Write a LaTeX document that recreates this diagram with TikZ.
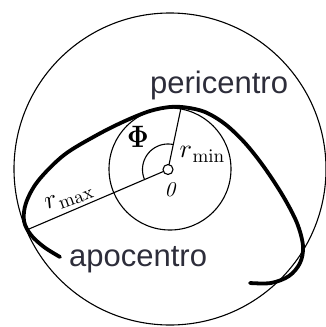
\documentclass[tikz,border=0pt]{standalone}
\usepackage[no-math]{fontspec}
\newfontfamily\labelfont{Liberation Sans}
\definecolor{labelgray}{RGB}{45,45,58}
\begin{document}
\begin{tikzpicture}[x=1pt,y=-1pt,
  thinline/.style={line width=1.1pt},
  orbit/.style={line width=3.8pt, line cap=round, line join=round},
  bigtext/.style={font=\labelfont\fontsize{31}{31}\selectfont, text=labelgray, inner sep=0pt},
  mathlabel/.style={inner sep=0pt}]
\useasboundingbox (0,0) rectangle (325,327);
\fill[white] (0,0) rectangle (325,327);
\coordinate (C) at (170,169);
\coordinate (O) at (168,169.5);
\coordinate (peri) at (181,108);
\coordinate (apo) at (29,229);
\draw[thinline] (C) circle[radius=156];
\draw[thinline] (C) circle[radius=61];
\draw[thinline] (O) -- (peri);
\draw[thinline] (O) -- (apo);
\draw[thinline] plot[domain=78:203.5,samples=40] ({168+25.5*cos(\x)},{169.5-25.5*sin(\x)});
\draw[orbit] plot[smooth, tension=0.55] coordinates {(60,257) (44,247) (31,235) (24,221) (26,203) (38,181) (64,155) (97,135) (125,121) (150,111) (170,107) (186,107.5) (205,112) (225,124) (245,143) (264,167) (283,196) (297,223) (303,246) (300,263) (289,276) (271,283) (250,283)};
\node[draw, thinline, fill=white, circle, minimum size=10pt, inner sep=0pt] (Odot) at (O) {};
\node[bigtext, anchor=base west] (pl) at (150,93) {pericentro};
\node[bigtext, anchor=base west] (al) at (69,266) {apocentro};
\node[mathlabel] (phi) at (138,137) {\scalebox{2.6}[3.1]{$\mathbf{\Phi}$}};
\node[mathlabel] (rmin) at (202,154) {\scalebox{2.6}{$r$}\kern0.5pt\raisebox{-5pt}{\scalebox{1.9}{$\mathrm{min}$}}};
\node[mathlabel] (rmax) at (69,198) {\rotatebox{20}{\scalebox{2.6}{$r$}\kern0.5pt\raisebox{-5pt}{\scalebox{1.9}{$\mathrm{max}$}}}};
\node[mathlabel] (olab) at (170.5,190) {\scalebox{2.1}{\textit{0}}};
\end{tikzpicture}
\end{document}
